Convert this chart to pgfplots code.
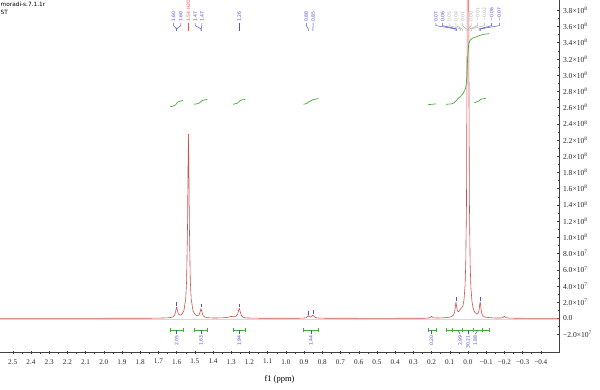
\documentclass[border=0pt]{standalone}
\usepackage{pgfplots}
\pgfplotsset{compat=1.18}
\usepackage{fontspec}
\setmainfont{Liberation Serif}
\newfontfamily\tickfont{Liberation Serif}
\newfontfamily\lblfont{DejaVu Sans}
\definecolor{spec}{RGB}{205,78,78}
\definecolor{intg}{RGB}{70,170,60}
\definecolor{pkblue}{RGB}{80,80,200}
\definecolor{pkgrey}{RGB}{175,175,175}
\definecolor{pkred}{RGB}{240,80,80}

\begin{document}
\begin{tikzpicture}[x=1pt,y=1pt]
\begin{axis}[
  at={(0pt,36.3pt)}, anchor=south west,
  scale only axis, width=559pt, height=352.7pt,
  x dir=reverse, xmin=-0.5, xmax=2.57,
  ymin=-42.3, ymax=392.6,
  axis x line=bottom, axis y line=right,
  axis line style={-, black!75, line width=0.5pt},
  xtick={2.5,2.4,2.3,2.2,2.1,2.0,1.9,1.8,1.7,1.6,1.5,1.4,1.3,1.2,1.1,1.0,0.9,0.8,0.7,0.6,0.5,0.4,0.3,0.2,0.1,0,-0.1,-0.2,-0.3,-0.4},
  xticklabels={2.5,2.4,2.3,2.2,2.1,2.0,1.9,1.8,1.7,1.6,1.5,1.4,1.3,1.2,1.1,1.0,0.9,0.8,0.7,0.6,0.5,0.4,0.3,0.2,0.1,0.0,−0.1,−0.2,−0.3,−0.4},
  minor x tick num=1,
  ytick={-20,0,20,...,380},
  yticklabels={−2.0×10\textsuperscript{7},0.0,2.0×10\textsuperscript{7},4.0×10\textsuperscript{7},6.0×10\textsuperscript{7},8.0×10\textsuperscript{7},1.0×10\textsuperscript{8},1.2×10\textsuperscript{8},1.4×10\textsuperscript{8},1.6×10\textsuperscript{8},1.8×10\textsuperscript{8},2.0×10\textsuperscript{8},2.2×10\textsuperscript{8},2.4×10\textsuperscript{8},2.6×10\textsuperscript{8},2.8×10\textsuperscript{8},3.0×10\textsuperscript{8},3.2×10\textsuperscript{8},3.4×10\textsuperscript{8},3.6×10\textsuperscript{8},3.8×10\textsuperscript{8}},
  minor y tick num=1,
  tick style={black!75, line width=0.4pt},
  major tick length=3pt, minor tick length=1.6pt,
  xticklabel style={font=\tickfont\fontsize{7.2}{8}\selectfont, text=black!85, yshift=-1.5pt},
  yticklabel style={font=\tickfont\fontsize{7.6}{8}\selectfont, text=black!85, anchor=west, xshift=-1pt},
  xlabel={f1 (ppm)},
  xlabel style={font=\tickfont\fontsize{8.5}{9}\selectfont, yshift=-5pt},
  clip=true,
]
% baseline shading
\addplot[gray!30, line width=1.3pt] coordinates {(2.57,-1.3) (-0.5,-1.3)};
% spectrum (values in units of 1e6)
\addplot[spec, line width=0.6pt, line join=round] coordinates {
(2.57,0.1) (2.3,0.1) (2.0,0.12) (1.8,0.15) (1.70,0.3) (1.65,0.7) (1.63,1.2) (1.62,1.9) (1.61,4.5) (1.605,8.9) (1.600,14.4) (1.595,9.3) (1.59,5.4) (1.58,4.0) (1.57,5.3) (1.56,9.5) (1.55,24) (1.545,47.2) (1.54,115.3) (1.537,193) (1.535,222) (1.533,193) (1.53,115.4) (1.525,47.4) (1.52,24) (1.51,9.4) (1.50,5.1) (1.49,3.6) (1.48,3.7) (1.475,5.0) (1.47,9.0) (1.466,12.3) (1.462,8.7) (1.455,3.5) (1.445,1.6) (1.43,0.84) (1.40,0.5) (1.35,0.6) (1.32,1.3) (1.30,2.4) (1.285,2.0) (1.275,2.3) (1.265,5.1) (1.26,9.5) (1.256,12.4) (1.252,9.4) (1.245,3.7) (1.235,1.4) (1.22,0.6) (1.18,0.3) (1.1,0.15) (1.0,0.12) (0.92,0.25) (0.90,0.4) (0.89,0.8) (0.883,1.8) (0.877,3.4) (0.871,2.1) (0.865,1.7) (0.858,2.8) (0.852,4.2) (0.845,2.4) (0.835,0.9) (0.82,0.4) (0.78,0.2) (0.6,0.12) (0.4,0.12) (0.3,0.15) (0.23,0.25) (0.21,0.7) (0.203,1.9) (0.200,2.6) (0.197,1.9) (0.19,0.7) (0.17,0.45) (0.15,0.6) (0.12,0.95) (0.10,1.6) (0.09,2.2) (0.08,3.9) (0.074,7.2) (0.070,13.2) (0.066,20.2) (0.062,14.2) (0.058,9.3) (0.052,8.2) (0.046,9.8) (0.040,11.9) (0.034,13.1) (0.028,15.3) (0.022,22.2) (0.016,39.6) (0.012,68) (0.008,143) (0.005,319) (0.003,644) (0.000,1500) (-0.003,644) (-0.005,319) (-0.008,143) (-0.012,67.5) (-0.016,38.8) (-0.022,20.9) (-0.028,13.1) (-0.034,9.1) (-0.040,6.9) (-0.046,5.7) (-0.052,5.5) (-0.058,7.2) (-0.062,11.6) (-0.065,17.9) (-0.067,20.3) (-0.069,17.7) (-0.072,11.0) (-0.076,6.0) (-0.082,3.3) (-0.09,2.1) (-0.10,1.4) (-0.12,0.9) (-0.15,0.5) (-0.18,0.45) (-0.19,0.8) (-0.197,2.1) (-0.200,2.75) (-0.203,2.1) (-0.21,0.75) (-0.23,0.3) (-0.3,0.12) (-0.5,0.05)
};
% integral curves
\addplot[intg, line width=0.7pt] coordinates {(1.635,261) (1.615,262) (1.605,263.5) (1.600,265) (1.595,266.5) (1.585,267.5) (1.566,269)};
\addplot[intg, line width=0.7pt] coordinates {(1.503,264) (1.48,265) (1.47,266.5) (1.466,267.5) (1.46,268.5) (1.445,269.5) (1.432,270)};
\addplot[intg, line width=0.7pt] coordinates {(1.289,264) (1.265,265.5) (1.258,267) (1.252,268.5) (1.24,269.5) (1.222,270)};
\addplot[intg, line width=0.7pt] coordinates {(0.903,264) (0.885,265) (0.877,266.5) (0.865,268) (0.852,269.5) (0.835,270.5) (0.82,271)};
\addplot[intg, line width=0.7pt] coordinates {(0.22,263.5) (0.2,264) (0.176,264.5)};
\addplot[intg, line width=0.7pt] coordinates {(0.121,264) (0.09,264.5) (0.075,266) (0.066,268) (0.055,271) (0.04,274) (0.025,278) (0.012,284) (0.006,298) (0.003,315) (0.0,326) (-0.003,335) (-0.006,340) (-0.012,343) (-0.025,345.5) (-0.05,347.5) (-0.066,349) (-0.09,350.5) (-0.116,351)};
\addplot[intg, line width=0.7pt] coordinates {(-0.035,266) (-0.05,267) (-0.062,268.5) (-0.067,269.5) (-0.075,270.5) (-0.099,271.5)};

% integral brackets and values
\foreach \a/\b/\m/\v in {1.635/1.566/1.600/2.05, 1.503/1.432/1.466/1.63, 1.289/1.222/1.256/1.94, 0.903/0.820/0.862/1.44, 0.220/0.176/0.200/0.20}{
  \edef\tmp{\noexpand\draw[intg, line width=0.5pt] (axis cs:\a,-14.3) -- (axis cs:\b,-14.3);
    \noexpand\draw[intg, line width=0.5pt] (axis cs:\a,-11.8) -- (axis cs:\a,-16.8);
    \noexpand\draw[intg, line width=0.5pt] (axis cs:\b,-11.8) -- (axis cs:\b,-16.8);
    \noexpand\draw[pkblue, line width=0.5pt] (axis cs:\m,-14.3) -- (axis cs:\m,-19.5);
    \noexpand\node[pkblue, rotate=90, anchor=east, inner sep=0.5pt, font=\noexpand\lblfont\noexpand\fontsize{4.6}{5}\noexpand\selectfont] at (axis cs:\m,-20) {\v};}
  \tmp
}
\draw[intg, line width=0.5pt] (axis cs:0.121,-14.3) -- (axis cs:-0.116,-14.3);
\foreach \t in {0.121,0.085,0.030,-0.030,-0.080,-0.116}{
  \edef\tmp{\noexpand\draw[intg, line width=0.5pt] (axis cs:\t,-11.8) -- (axis cs:\t,-16.8);}\tmp
}
\draw[pkblue, line width=0.5pt] (axis cs:0.055,-14.3) -- (axis cs:0.043,-19.5);
\draw[pkblue, line width=0.5pt] (axis cs:0.0,-14.3) -- (axis cs:0.0,-19.5);
\draw[pkblue, line width=0.5pt] (axis cs:-0.055,-14.3) -- (axis cs:-0.040,-19.5);
\node[pkblue, rotate=90, anchor=east, inner sep=0.5pt, font=\lblfont\fontsize{4.6}{5}\selectfont] at (axis cs:0.043,-20) {2.99};
\node[pkblue, rotate=90, anchor=east, inner sep=0.5pt, font=\lblfont\fontsize{4.6}{5}\selectfont] at (axis cs:0.0,-20) {30.21};
\node[pkblue, rotate=90, anchor=east, inner sep=0.5pt, font=\lblfont\fontsize{4.6}{5}\selectfont] at (axis cs:-0.040,-20) {1.88};

% peak pick labels
\foreach \lx/\px/\c/\t in {1.617/1.600/pkblue/1.60, 1.577/1.600/pkblue/1.60, 1.535/1.535/pkred/1.54 H2O, 1.498/1.466/pkblue/1.47, 1.461/1.466/pkblue/1.47, 1.256/1.256/pkblue/1.26, 0.888/0.877/pkblue/0.88, 0.850/0.852/pkblue/0.85, 0.176/0.070/pkblue/0.07, 0.139/0.062/pkblue/0.06, 0.103/0.040/pkgrey/0.05, 0.066/0.030/pkgrey/0.04, 0.029/0.010/pkgrey/0.01, -0.017/0.000/pkgrey/0.00, -0.053/-0.010/pkgrey/−0.01, -0.090/-0.020/pkgrey/−0.02, -0.130/-0.062/pkblue/−0.06, -0.172/-0.070/pkblue/−0.07}{
  \edef\tmp{\noexpand\draw[\c, line width=0.5pt] (axis cs:\lx,364.5) -- (axis cs:\lx,361) -- (axis cs:\px,357) -- (axis cs:\px,354.5);
    \noexpand\node[\c, rotate=90, anchor=west, inner sep=0.5pt, font=\noexpand\lblfont\noexpand\fontsize{4.6}{5}\noexpand\selectfont] at (axis cs:\lx,365) {\t};}
  \tmp
}
% peak markers
\foreach \px/\py/\c in {1.600/15.5/pkblue, 1.466/13.5/pkblue, 1.256/13.5/pkblue, 0.877/4.5/pkblue, 0.852/5.3/pkblue, 0.066/21.5/pkblue, -0.067/21.5/pkblue, 1.535/223/pkred}{
  \edef\tmp{\noexpand\draw[\c, line width=0.6pt] (axis cs:\px,\py) -- (axis cs:\px,\py+4.5);}\tmp
}
\end{axis}
\node[anchor=north west, inner sep=0pt, font=\lblfont\fontsize{5.8}{7}\selectfont] at (0.5pt,387.5pt) {moradi-s.7.1.1r};
\node[anchor=north west, inner sep=0pt, font=\lblfont\fontsize{5.8}{7}\selectfont] at (0.5pt,379pt) {ST};
\pgfresetboundingbox
\path[use as bounding box] (0,0) rectangle (600pt,389pt);
\end{tikzpicture}
\end{document}
